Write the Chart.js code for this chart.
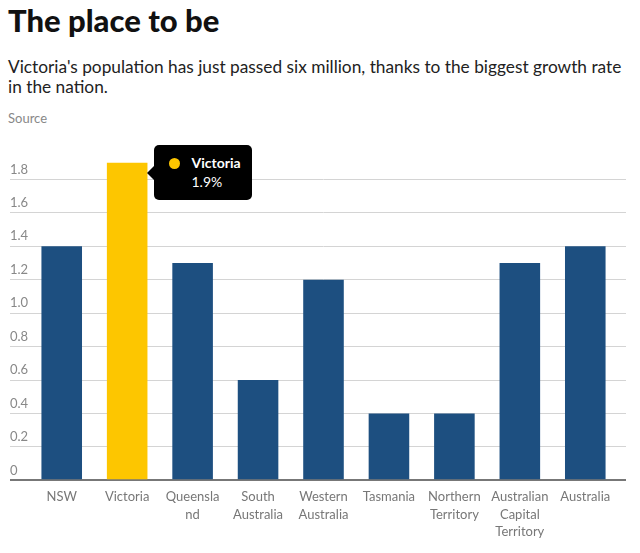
<!DOCTYPE html>
<html>
<head>
<meta charset="utf-8">
<script src="https://cdn.jsdelivr.net/npm/chart.js@4.4.1/dist/chart.umd.min.js"></script>
<style>
  body { margin: 0; width: 640px; height: 553px; overflow: hidden; background: #fff; font-family: Lato, sans-serif; position: relative; }
  h1 { position: absolute; left: 8px; top: 1px; margin: 0; font-size: 31px; font-weight: 900; color: #111; }
  .sub { position: absolute; left: 8px; top: 57px; margin: 0; font-size: 17.3px; line-height: 20px; color: #222; white-space: nowrap; }
  .source { position: absolute; left: 8px; top: 110px; font-size: 13px; color: #888; }
  #wrap { position: absolute; left: 0; top: 130px; width: 640px; height: 423px; }
  #tip { position: absolute; display: none; box-sizing: border-box; width: 98px; height: 55px; background: #000; color: #fff; border-radius: 5px; padding: 8px 0 0 37px; font-size: 14px; line-height: 19px; }
  #tip::before { content: ""; position: absolute; left: -7px; top: 50%; margin-top: -7px; border-top: 7px solid transparent; border-bottom: 7px solid transparent; border-right: 7px solid #000; }
  #tip .dot { position: absolute; left: 15px; top: 13px; width: 11px; height: 11px; border-radius: 50%; }
</style>
</head>
<body>
<h1>The place to be</h1>
<p class="sub">Victoria's population has just passed six million, thanks to the biggest growth rate<br>in the nation.</p>
<div class="source">Source</div>
<div id="wrap">
  <canvas id="chart"></canvas>
  <div id="tip"></div>
</div>
<script>
// population growth, per cent
const categories = ['NSW', 'Victoria', 'Queensland', 'South Australia', 'Western Australia', 'Tasmania', 'Northern Territory', 'Australian Capital Territory', 'Australia'];
const tickLabels = [['NSW'], ['Victoria'], ['Queensla', 'nd'], ['South', 'Australia'], ['Western', 'Australia'], ['Tasmania'], ['Northern', 'Territory'], ['Australian', 'Capital', 'Territory'], ['Australia']];
const growth = [1.4, 1.9, 1.3, 0.6, 1.2, 0.4, 0.4, 1.3, 1.4];
const yTicks = [0, 0.2, 0.4, 0.6, 0.8, 1.0, 1.2, 1.4, 1.6, 1.8];
const highlight = 'Victoria';

const blue = '#1d4f80';
const yellow = '#fdc600';

Chart.defaults.font.family = 'Lato, sans-serif';

function setTicks(scale) {
  scale.ticks = yTicks.map(v => ({ value: v }));
}

function gridColor(ctx) {
  return ctx.tick && ctx.tick.value === 0 ? '#777' : '#d4d4d4';
}
function gridWidth(ctx) {
  return ctx.tick && ctx.tick.value === 0 ? 2 : 1;
}

function drawTip(context) {
  const { tooltip } = context;
  const tip = document.getElementById('tip');
  if (tooltip.opacity === 0 || !tooltip.dataPoints || !tooltip.dataPoints.length) {
    tip.style.display = 'none';
    return;
  }
  const p = tooltip.dataPoints[0];
  const bar = p.element;
  const col = p.dataset.backgroundColor[p.dataIndex];
  tip.innerHTML = '<span class="dot" style="background:' + col + '"></span><b>' + categories[p.dataIndex] + '</b><br>' + p.formattedValue + '%';
  tip.style.display = 'block';
  tip.style.left = (bar.x + bar.width / 2 + 7) + 'px';
  tip.style.top = (bar.y + 10 - 27.5) + 'px';
}

const chart = new Chart(document.getElementById('chart'), {
  type: 'bar',
  data: {
    labels: tickLabels,
    datasets: [{
      data: growth,
      backgroundColor: categories.map(c => c === highlight ? yellow : blue),
      borderWidth: 0,
      barPercentage: 0.62,
      categoryPercentage: 1
    }]
  },
  options: {
    responsive: true,
    maintainAspectRatio: false,
    animation: false,
    events: [],
    layout: { padding: { left: 10, right: 14, top: 16, bottom: 12 } },
    plugins: {
      legend: { display: false },
      tooltip: { enabled: false, external: drawTip }
    },
    scales: {
      x: {
        grid: { display: false },
        border: { display: false },
        ticks: {
          color: '#777',
          font: { size: 13, lineHeight: 1.35 },
          padding: 0,
          autoSkip: false,
          maxRotation: 0
        }
      },
      y: {
        min: 0,
        max: 2,
        afterBuildTicks: setTicks,
        afterFit: s => { s.width = 19; },
        border: { display: false },
        grid: { color: gridColor, lineWidth: gridWidth, tickLength: 19 },
        ticks: {
          mirror: true,
          padding: -19,
          labelOffset: -10,
          color: '#888',
          font: { size: 13 },
          callback: v => v === 0 ? '0' : v.toFixed(1)
        }
      },
      y2: {
        position: 'right',
        min: 0,
        max: 2,
        afterBuildTicks: setTicks,
        border: { display: false },
        grid: { color: gridColor, lineWidth: gridWidth, tickLength: 8, drawOnChartArea: false },
        ticks: { display: false }
      }
    }
  }
});

chart.tooltip.setActiveElements([{ datasetIndex: 0, index: categories.indexOf(highlight) }], { x: 0, y: 0 });
chart.update();
</script>
</body>
</html>
